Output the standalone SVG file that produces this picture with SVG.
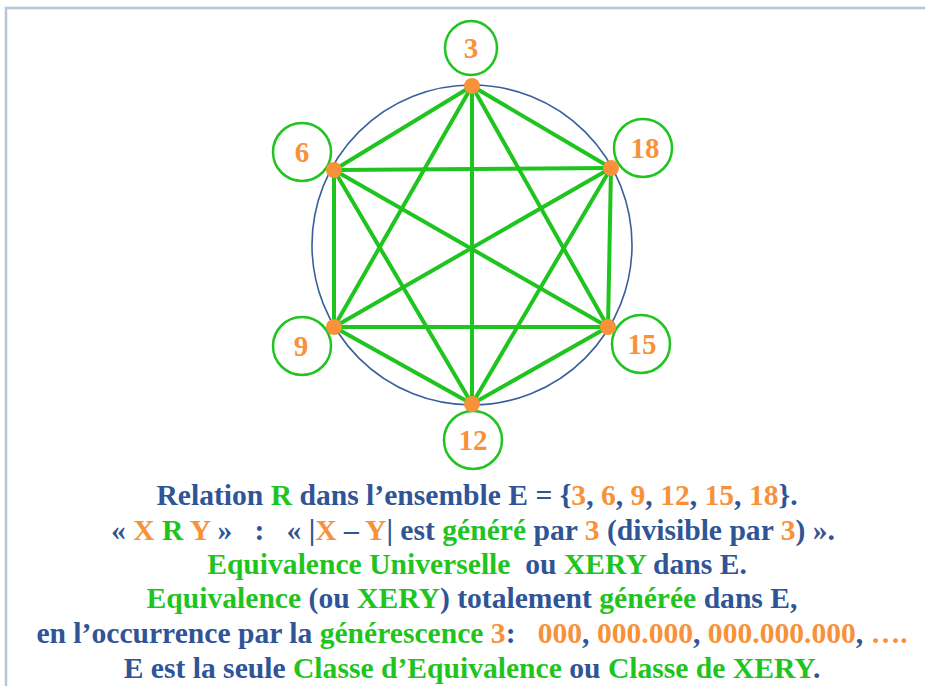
<svg xmlns="http://www.w3.org/2000/svg" width="925" height="686" viewBox="0 0 925 686">
<style>
.edge{stroke:#1fc41f;stroke-width:4;stroke-linecap:round}
.lbl{fill:#fff;stroke:#1fc41f;stroke-width:2.5}
.dot{fill:#f7923a}
.num{font-family:'Liberation Serif','Times New Roman',Times,serif;font-weight:700;font-size:29px;fill:#f7923a;text-anchor:middle}
.t{font-family:'Liberation Serif','Times New Roman',Times,serif;font-weight:700;font-size:29.6px;fill:#2f5597;text-anchor:middle;white-space:pre}
.g{fill:#1fc41f}
.o{fill:#f7923a}
</style>
<rect x="0" y="0" width="925" height="686" fill="#fff"/>
<rect x="6" y="8" width="940" height="700" fill="#fff" stroke="#b4c5dc" stroke-width="2.5"/>
<circle cx="472" cy="245" r="160" fill="none" stroke="#3a5f9c" stroke-width="1.6"/>
<g id="connectors">
<line class="edge" x1="472" y1="86" x2="334" y2="170"/>
<line class="edge" x1="472" y1="86" x2="611" y2="168"/>
<line class="edge" x1="472" y1="86" x2="334" y2="327"/>
<line class="edge" x1="472" y1="86" x2="608" y2="327"/>
<line class="edge" x1="472" y1="86" x2="472" y2="404"/>
<line class="edge" x1="334" y1="170" x2="611" y2="168"/>
<line class="edge" x1="334" y1="170" x2="334" y2="327"/>
<line class="edge" x1="334" y1="170" x2="608" y2="327"/>
<line class="edge" x1="334" y1="170" x2="472" y2="404"/>
<line class="edge" x1="611" y1="168" x2="334" y2="327"/>
<line class="edge" x1="611" y1="168" x2="608" y2="327"/>
<line class="edge" x1="611" y1="168" x2="472" y2="404"/>
<line class="edge" x1="334" y1="327" x2="608" y2="327"/>
<line class="edge" x1="334" y1="327" x2="472" y2="404"/>
<line class="edge" x1="608" y1="327" x2="472" y2="404"/>
</g>
<g id="n3"><ellipse class="lbl" cx="471" cy="48" rx="26" ry="27"/><text class="num" x="471" y="58">3</text><circle class="dot" cx="472" cy="86" r="8"/></g>
<g id="n6"><circle class="lbl" cx="302" cy="152" r="29"/><text class="num" x="302" y="162">6</text><circle class="dot" cx="334" cy="170" r="8"/></g>
<g id="n18"><circle class="lbl" cx="643" cy="148" r="29"/><text class="num" x="645" y="158">18</text><circle class="dot" cx="611" cy="168" r="8"/></g>
<g id="n9"><circle class="lbl" cx="302" cy="346" r="29"/><text class="num" x="301" y="356">9</text><circle class="dot" cx="334" cy="327" r="8"/></g>
<g id="n15"><circle class="lbl" cx="641" cy="344" r="29"/><text class="num" x="642" y="354">15</text><circle class="dot" cx="608" cy="327" r="8"/></g>
<g id="n12"><circle class="lbl" cx="473" cy="440" r="29"/><text class="num" x="473" y="450">12</text><circle class="dot" cx="472" cy="404" r="8"/></g>
<g id="caption">
<text class="t" x="477" y="505">Relation <tspan class="g">R</tspan> dans l’ensemble E = {<tspan class="o">3</tspan>, <tspan class="o">6</tspan>, <tspan class="o">9</tspan>, <tspan class="o">12</tspan>, <tspan class="o">15</tspan>, <tspan class="o">18</tspan>}.</text>
<text class="t" x="473" y="540">« <tspan class="o">X</tspan> <tspan class="g">R</tspan> <tspan class="o">Y</tspan> »   :   « |<tspan class="o">X</tspan> – <tspan class="o">Y</tspan>| est <tspan class="g">généré</tspan> par <tspan class="o">3</tspan> (divisible par <tspan class="o">3</tspan>) ».</text>
<text class="t" x="477" y="574"><tspan class="g">Equivalence Universelle</tspan>  ou <tspan class="g">XERY</tspan> dans E.</text>
<text class="t" x="472" y="608"><tspan class="g">Equivalence</tspan> (ou <tspan class="g">XERY</tspan>) totalement <tspan class="g">générée</tspan> dans E,</text>
<text class="t" x="472" y="643">en l’occurrence par la <tspan class="g">générescence</tspan> <tspan class="o">3</tspan>:   <tspan class="o">000</tspan>, <tspan class="o">000.000</tspan>, <tspan class="o">000.000.000</tspan>, <tspan class="o">….</tspan></text>
<text class="t" x="472" y="678">E est la seule <tspan class="g">Classe d’Equivalence</tspan> ou <tspan class="g">Classe de XERY</tspan>.</text>
</g>
</svg>
